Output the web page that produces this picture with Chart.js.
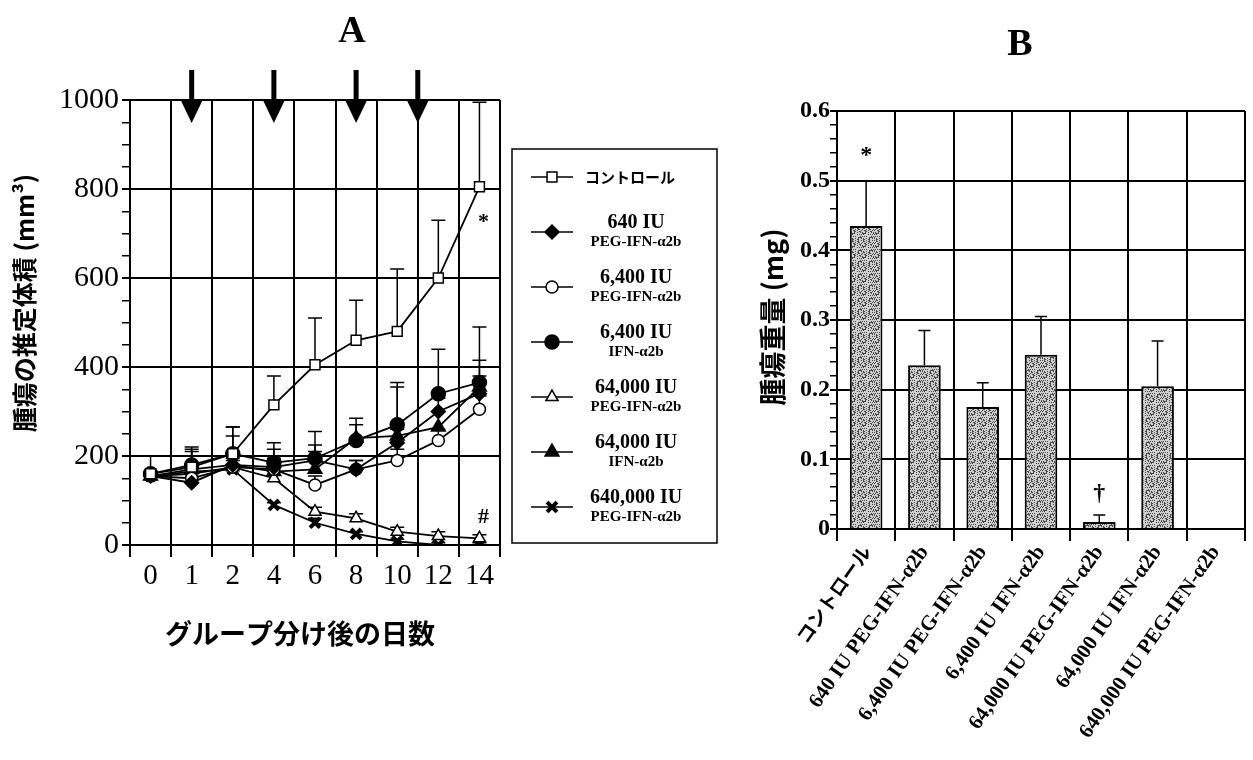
<!DOCTYPE html>
<html>
<head>
<meta charset="utf-8">
<script src="https://cdn.jsdelivr.net/npm/chart.js@4"></script>
<style>
  html, body { margin: 0; padding: 0; background: #fff; }
  #chartA { position: absolute; left: 0; top: 0; }
  #chartB { position: absolute; left: 730px; top: 0; }
</style>
</head>
<body>
<canvas id="chartA" width="730" height="760"></canvas>
<canvas id="chartB" width="523" height="760"></canvas>
<script>
  // ---- data ----
  const days = ["0", "1", "2", "4", "6", "8", "10", "12", "14"];
  const doseDays = [1, 4, 8, 11];

  const doseLabels = ["640 IU", "6,400 IU", "6,400 IU", "64,000 IU", "64,000 IU", "640,000 IU"];
  const agentLabels = ["PEG-IFN-α2b", "PEG-IFN-α2b", "IFN-α2b", "PEG-IFN-α2b", "IFN-α2b", "PEG-IFN-α2b"];
  const controlLabel = "コントロール";

  const control     = [160, 175, 205, 315, 405, 460, 480, 600, 805];
  const controlErr  = [40, 40, 60, 65, 105, 90, 140, 130, 190];
  const peg640      = [155, 140, 180, 175, 190, 170, 230, 300, 340];
  const peg640Err   = [0, 20, 20, 20, 20, 20, 30, 30, 40];
  const peg6400     = [155, 150, 175, 170, 135, 170, 190, 235, 305];
  const peg6400Err  = [0, 20, 20, 20, 20, 20, 25, 25, 30];
  const ifn6400     = [160, 180, 205, 185, 195, 235, 270, 340, 365];
  const ifn6400Err  = [0, 40, 60, 45, 60, 50, 95, 100, 125];
  const peg64000    = [155, 160, 175, 150, 75, 60, 30, 20, 15];
  const peg64000Err = [0, 10, 15, 15, 10, 10, 10, 10, 8];
  const ifn64000    = [155, 170, 180, 165, 170, 240, 245, 265, 355];
  const ifn64000Err = [0, 40, 65, 50, 55, 30, 110, 0, 60];
  const peg640000   = [155, 165, 170, 90, 50, 25, 8, 0, 0];
  const peg640000Err = [0, 10, 10, 5, 10, 5, 5, 5, 5];

  const weights   = [0.435, 0.235, 0.175, 0.25, 0.01, 0.205, 0];
  const weightErr = [0.065, 0.05, 0.035, 0.055, 0.01, 0.065, 0];

  const notesA = [{ text: "*", day: "14", value: 725 }, { text: "#", day: "14", value: 62 }];
  const notesB = [{ text: "*", index: 0, value: 0.535 }, { text: "†", index: 4, value: 0.05 }];

  const serif = "'Liberation Serif', 'Noto Sans CJK JP', serif";
  const cjk = "'Noto Sans CJK JP', sans-serif";

  const seriesA = [
    { label: controlLabel, data: control, err: controlErr, style: "rect", fill: false, r: 7 },
    { label: doseLabels[0] + " " + agentLabels[0], data: peg640, err: peg640Err, style: "rectRot", fill: true, r: 7 },
    { label: doseLabels[1] + " " + agentLabels[1], data: peg6400, err: peg6400Err, style: "circle", fill: false, r: 6 },
    { label: doseLabels[2] + " " + agentLabels[2], data: ifn6400, err: ifn6400Err, style: "circle", fill: true, r: 7 },
    { label: doseLabels[3] + " " + agentLabels[3], data: peg64000, err: peg64000Err, style: "triangle", fill: false, r: 7 },
    { label: doseLabels[4] + " " + agentLabels[4], data: ifn64000, err: ifn64000Err, style: "triangle", fill: true, r: 8 },
    { label: doseLabels[5] + " " + agentLabels[5], data: peg640000, err: peg640000Err, style: "crossRot", fill: true, r: 7 }
  ];

  function drawErrors(chart, cap) {
    const ctx = chart.ctx;
    const ys = chart.scales.y;
    ctx.save();
    ctx.strokeStyle = "#000";
    ctx.lineWidth = 1.5;
    chart.data.datasets.forEach((ds, i) => {
      if (!ds.errors) return;
      chart.getDatasetMeta(i).data.forEach((el, j) => {
        const e = ds.errors[j];
        if (!e) return;
        const y0 = ys.getPixelForValue(ds.data[j]);
        const y1 = ys.getPixelForValue(ds.data[j] + e);
        ctx.beginPath();
        ctx.moveTo(el.x, y0);
        ctx.lineTo(el.x, y1);
        ctx.moveTo(el.x - cap, y1);
        ctx.lineTo(el.x + cap, y1);
        ctx.stroke();
      });
    });
    ctx.restore();
  }

  function dayIndex(d) {
    const nums = days.map(Number);
    for (let i = 0; i < nums.length - 1; i++) {
      if (d >= nums[i] && d <= nums[i + 1]) return i + (d - nums[i]) / (nums[i + 1] - nums[i]);
    }
    return nums.length - 1;
  }

  function verticalTitle(ctx, text, x, y, font) {
    ctx.save();
    ctx.translate(x, y);
    ctx.rotate(-Math.PI / 2);
    ctx.font = font;
    ctx.fillStyle = "#000";
    ctx.textAlign = "center";
    ctx.textBaseline = "middle";
    ctx.fillText(text, 0, 0);
    ctx.restore();
  }

  const errorsUnder = { id: "errorsUnder", beforeDatasetsDraw(chart) { drawErrors(chart, 7); } };
  const errorsOver = { id: "errorsOver", afterDatasetsDraw(chart) { drawErrors(chart, 6); } };

  const panelAExtras = {
    id: "panelAExtras",
    afterDraw(chart) {
      const ctx = chart.ctx;
      const xs = chart.scales.x, ys = chart.scales.y;
      ctx.save();
      ctx.fillStyle = "#000";
      ctx.strokeStyle = "#000";
      ctx.textAlign = "center";
      ctx.textBaseline = "middle";
      ctx.font = "bold 38px " + serif;
      ctx.fillText("A", 352, 32);

      // axis titles
      ctx.font = "bold 27px " + cjk;
      ctx.fillText("グループ分け後の日数", 300, 634);
      verticalTitle(ctx, "腫瘍の推定体積 (mm³)", 24, 303, "bold 25px " + cjk);

      // dosing arrows
      doseDays.forEach(d => {
        const x = xs.getPixelForValue(dayIndex(d));
        ctx.fillRect(x - 2.5, 70, 5, 34);
        ctx.beginPath();
        ctx.moveTo(x - 11, 100);
        ctx.lineTo(x + 11, 100);
        ctx.lineTo(x, 123);
        ctx.closePath();
        ctx.fill();
      });

      // significance marks
      ctx.font = "bold 22px " + serif;
      notesA.forEach(n => {
        ctx.fillText(n.text, xs.getPixelForValue(days.indexOf(n.day)) + 4, ys.getPixelForValue(n.value));
      });

      // legend
      ctx.lineWidth = 1.5;
      ctx.strokeRect(512, 149, 205, 394);
      seriesA.forEach((s, i) => {
        const y = 177 + i * 55;
        ctx.lineWidth = 1.5;
        ctx.beginPath();
        ctx.moveTo(531, y);
        ctx.lineTo(573, y);
        ctx.stroke();
        ctx.fillStyle = s.fill ? "#000" : "#fff";
        ctx.lineWidth = s.style === "crossRot" ? 4 : 1.5;
        Chart.helpers.drawPoint(ctx, { pointStyle: s.style, radius: s.r, borderWidth: ctx.lineWidth, rotation: 0 }, 552, y);
        ctx.fillStyle = "#000";
        if (i === 0) {
          ctx.font = "bold 15px " + cjk;
          ctx.fillText(controlLabel, 630, y);
        } else {
          ctx.font = "bold 20px " + serif;
          ctx.fillText(doseLabels[i - 1], 636, y - 9);
          ctx.font = "bold 15px " + serif;
          ctx.fillText(agentLabels[i - 1], 636, y + 10);
        }
      });
      ctx.restore();
    }
  };

  new Chart(document.getElementById("chartA"), {
    type: "line",
    data: {
      labels: days,
      datasets: seriesA.map(s => ({
        label: s.label,
        data: s.data,
        errors: s.err,
        borderColor: "#000",
        borderWidth: 1.8,
        pointStyle: s.style,
        pointRadius: s.r,
        pointBackgroundColor: s.fill ? "#000" : "#fff",
        pointBorderColor: "#000",
        pointBorderWidth: s.style === "crossRot" ? 4 : 1.5,
        tension: 0
      }))
    },
    options: {
      responsive: false,
      animation: false,
      layout: { padding: { top: 100, right: 230, bottom: 105, left: 10 } },
      plugins: { legend: { display: false }, tooltip: { enabled: false } },
      scales: {
        x: {
          offset: true,
          grid: { offset: true, color: "#000", lineWidth: 2, tickLength: 12 },
          border: { color: "#000", width: 2 },
          ticks: { color: "#000", font: { family: serif, size: 29 }, padding: 2, maxRotation: 0, autoSkip: false },
          afterFit(s) { s.height = 110; }
        },
        y: {
          min: 0,
          max: 1000,
          ticks: {
            stepSize: 50,
            autoSkip: false,
            color: "#000",
            font: { family: serif, size: 30 },
            padding: 3,
            callback: v => (v % 200 === 0 ? v : "")
          },
          grid: {
            color: c => (c.tick && c.tick.value % 200 === 0 ? "#000" : "rgba(0,0,0,0)"),
            tickColor: "#000",
            lineWidth: c => (c.tick && c.tick.value % 200 === 0 ? 2 : 1.5),
            tickLength: 8
          },
          border: { color: "#000", width: 2 },
          afterFit(s) { s.width = 120; }
        }
      }
    },
    plugins: [errorsUnder, panelAExtras]
  });

  // ---- panel B ----
  function stipple() {
    const n = 24;
    const c = document.createElement("canvas");
    c.width = n; c.height = n;
    const g = c.getContext("2d");
    g.fillStyle = "#cfcfcf";
    g.fillRect(0, 0, n, n);
    g.fillStyle = "#4a4a4a";
    for (let y = 0; y < n; y++) {
      for (let x = 0; x < n; x++) {
        const h = (x * 73 + y * 151 + x * y * 17) % 11;
        if (h < 4) g.fillRect(x, y, 1, 1);
      }
    }
    return g.createPattern(c, "repeat");
  }

  const isMajorB = v => Math.abs(v * 10 - Math.round(v * 10)) < 1e-6;

  const panelBExtras = {
    id: "panelBExtras",
    afterDraw(chart) {
      const ctx = chart.ctx;
      const xs = chart.scales.x, ys = chart.scales.y;
      ctx.save();
      ctx.fillStyle = "#000";
      ctx.textAlign = "center";
      ctx.textBaseline = "middle";
      ctx.font = "bold 38px " + serif;
      ctx.fillText("B", 290, 45);
      verticalTitle(ctx, "腫瘍重量 (mg)", 43, 317, "bold 27px " + cjk);
      ctx.font = "bold 24px " + serif;
      notesB.forEach(n => ctx.fillText(n.text, xs.getPixelForValue(n.index), ys.getPixelForValue(n.value)));
      ctx.restore();
    }
  };

  new Chart(document.getElementById("chartB"), {
    type: "bar",
    data: {
      labels: [controlLabel].concat(doseLabels.map((d, i) => d + " " + agentLabels[i])),
      datasets: [{
        data: weights,
        errors: weightErr,
        backgroundColor: stipple(),
        borderColor: "#000",
        borderWidth: 2,
        borderSkipped: "bottom",
        barPercentage: 0.56,
        categoryPercentage: 1
      }]
    },
    options: {
      responsive: false,
      animation: false,
      layout: { padding: { top: 111, right: 8, bottom: 0, left: 30 } },
      plugins: { legend: { display: false }, tooltip: { enabled: false } },
      scales: {
        x: {
          grid: { color: "#000", lineWidth: 2, tickLength: 12 },
          border: { color: "#000", width: 2 },
          ticks: {
            color: "#000",
            font: c => (c.index === 0 ? { family: cjk, size: 19, weight: "bold" } : { family: serif, size: 21, weight: "bold" }),
            minRotation: 55,
            maxRotation: 55,
            autoSkip: false,
            padding: 0
          },
          afterFit(s) { s.height = 231; }
        },
        y: {
          min: 0,
          max: 0.6,
          ticks: {
            stepSize: 0.02,
            autoSkip: false,
            color: "#000",
            font: { family: serif, size: 24, weight: "bold" },
            padding: 0,
            callback: v => (isMajorB(v) ? (Math.abs(v) < 1e-9 ? "0" : v.toFixed(1)) : "")
          },
          grid: {
            color: c => (c.tick && isMajorB(c.tick.value) ? "#000" : "rgba(0,0,0,0)"),
            tickColor: "#000",
            lineWidth: c => (c.tick && isMajorB(c.tick.value) ? 2 : 1.5),
            tickLength: 7
          },
          border: { color: "#000", width: 2 },
          afterFit(s) { s.width = 77; }
        }
      }
    },
    plugins: [errorsOver, panelBExtras]
  });
</script>
</body>
</html>
